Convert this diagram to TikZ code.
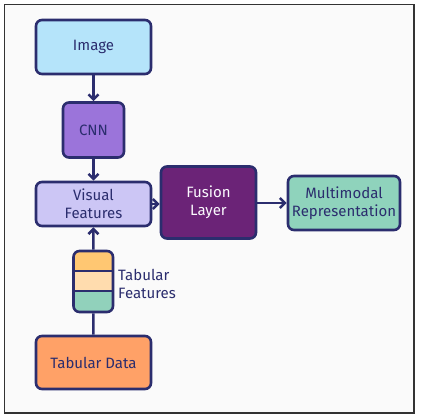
\documentclass[tikz,border=0pt]{standalone}
\usepackage{fontspec}
\setmainfont{Fira Sans}
\usetikzlibrary{arrows.meta}
\definecolor{navy}{HTML}{2B2D6E}
\definecolor{cimg}{HTML}{B5E4FA}
\definecolor{ccnn}{HTML}{9B74DA}
\definecolor{cvis}{HTML}{CCC6F5}
\definecolor{cfus}{HTML}{6B2377}
\definecolor{cmm}{HTML}{8FD3BC}
\definecolor{ctab}{HTML}{FFA167}
\definecolor{cs1}{HTML}{FFC772}
\definecolor{cs2}{HTML}{FFDCAE}
\definecolor{cs3}{HTML}{91D1BB}
\definecolor{bg}{HTML}{FAFAFA}
\begin{document}
\begin{tikzpicture}[x=1pt,y=-1pt,
  box/.style={draw=navy,line width=2.6pt,rounded corners=6pt,text=navy,align=center,
    font=\fontsize{15}{18}\selectfont,inner sep=0pt},
  conn/.style={draw=navy,line width=2.6pt},
  arr/.style={conn,-{Straight Barb[length=5pt,width=10pt,line width=2.6pt]}}]
\useasboundingbox (0,0) rectangle (421,418);
\fill[white] (0,0) rectangle (421,418);
\draw[fill=bg,draw=black!80,line width=1.8pt] (4.5,4.5) rectangle (414,413);
\node[box,fill=cimg,minimum width=115pt,minimum height=54pt] (img) at (93.5,47) {Image};
\node[box,fill=ccnn,minimum width=61pt,minimum height=55pt] (cnn) at (93.5,130) {CNN};
\node[box,fill=cvis,minimum width=115pt,minimum height=44pt] (vis) at (93.5,204) {Visual\\Features};
\node[box,fill=cfus,text=white!92!cvis,minimum width=95pt,minimum height=72pt] (fus) at (208.5,202.5) {Fusion\\Layer};
\node[box,fill=cmm,minimum width=112pt,minimum height=54pt] (mm) at (344,203) {Multimodal\\Representation};
\node[box,fill=ctab,minimum width=115pt,minimum height=53pt] (tab) at (93.5,362.5) {Tabular Data};
% tabular feature stack
\begin{scope}
\clip[rounded corners=6pt] (73.5,251) rectangle (113,312);
\fill[cs1] (73.5,251) rectangle (113,271);
\fill[cs2] (73.5,271) rectangle (113,291);
\fill[cs3] (73.5,291) rectangle (113,312);
\end{scope}
\draw[conn] (73.5,271) -- (113,271) (73.5,291) -- (113,291);
\node[draw=navy,line width=2.6pt,rounded corners=6pt,minimum width=39.5pt,minimum height=61pt,inner sep=0pt] (stk) at (93.25,281.5) {};
\node[anchor=west,align=left,text=navy,font=\fontsize{15}{18}\selectfont,inner sep=0pt] (stkl) at (118,284) {Tabular\\Features};
\draw[arr] (img) -- (cnn);
\draw[arr] (cnn) -- (vis);
\draw[arr] (vis.east) -- (fus.west|-vis.east);
\draw[arr] (fus.east|-mm.west) -- (mm.west);
\draw[arr] (stk) -- (vis);
\draw[conn] (tab) -- (stk);
\end{tikzpicture}
\end{document}
